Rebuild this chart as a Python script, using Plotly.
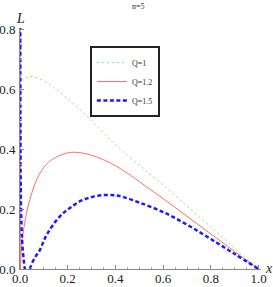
import plotly.graph_objects as go

# Q = 1 (green dotted)
x_q1 = [0.0005, 0.003, 0.008, 0.03, 0.054, 0.1, 0.14, 0.2, 0.25, 0.3, 0.35, 0.4, 0.45, 0.5, 0.6, 0.7, 0.8, 0.9, 1.0]
L_q1 = [0.9, 0.66, 0.632, 0.64, 0.643, 0.628, 0.607, 0.568, 0.533, 0.495, 0.455, 0.415, 0.38, 0.347, 0.28, 0.21, 0.14, 0.07, 0.0]

# Q = 1.2 (red solid)
x_q12 = [0.0, 0.001, 0.002, 0.005, 0.013, 0.02, 0.033, 0.05, 0.063, 0.08, 0.1, 0.117, 0.15, 0.2, 0.23, 0.27, 0.3, 0.35, 0.4, 0.45, 0.5, 0.6, 0.7, 0.8, 0.9, 1.0]
L_q12 = [0.9, 0.3, 0.0, 0.06, 0.12, 0.155, 0.207, 0.255, 0.285, 0.315, 0.34, 0.355, 0.373, 0.388, 0.39, 0.386, 0.38, 0.365, 0.345, 0.32, 0.292, 0.235, 0.176, 0.117, 0.058, 0.0]

# Q = 1.5 (blue dashed)
x_q15 = [0.001, 0.002, 0.004, 0.007, 0.01, 0.015, 0.02, 0.025, 0.03, 0.035, 0.041, 0.06, 0.083, 0.1, 0.116, 0.15, 0.186, 0.22, 0.256, 0.3, 0.351, 0.4, 0.434, 0.5, 0.6, 0.7, 0.8, 0.9, 1.0]
L_q15 = [0.9, 0.45, 0.22, 0.13, 0.08, 0.035, 0.002, -0.02, -0.025, -0.02, 0.0, 0.035, 0.063, 0.095, 0.12, 0.16, 0.19, 0.21, 0.228, 0.24, 0.247, 0.246, 0.24, 0.222, 0.19, 0.148, 0.1, 0.05, 0.0]

series_names = ["Q=1", "Q=1.2", "Q=1.5"]
x_ticks = [0.0, 0.2, 0.4, 0.6, 0.8, 1.0]
y_ticks = [0.0, 0.2, 0.4, 0.6, 0.8]

serif = "Liberation Serif"

fig = go.Figure()
fig.add_trace(go.Scatter(x=x_q1, y=L_q1, mode="lines", name=series_names[0],
                         line=dict(color="#7ee87e", width=1, dash="2px,3px", shape="spline")))
fig.add_trace(go.Scatter(x=x_q12, y=L_q12, mode="lines", name=series_names[1],
                         line=dict(color="#ff6a6a", width=1, shape="spline")))
fig.add_trace(go.Scatter(x=x_q15, y=L_q15, mode="lines", name=series_names[2],
                         line=dict(color="#1a1aff", width=2.5, dash="4px,2.5px", shape="spline")))

axis_common = dict(
    showgrid=False, zeroline=False, showline=True, linecolor="#888888", linewidth=1,
    ticks="inside", ticklen=4, tickcolor="#888888", tickwidth=1, automargin=False,
    tickfont=dict(family=serif, size=13, color="#222222"), tickformat=".1f",
    minor=dict(ticks="inside", ticklen=2, tickcolor="#aaaaaa", dtick=0.05),
)

fig.update_xaxes(range=[0, 1.01], tickvals=x_ticks, ticklabelstandoff=-3, **axis_common)
fig.update_yaxes(range=[0, 0.805], tickvals=y_ticks, ticklabelstandoff=1, **axis_common)

fig.update_layout(
    width=273, height=287,
    margin=dict(l=20, r=11.6, t=27.5, b=18, pad=0),
    plot_bgcolor="white", paper_bgcolor="white",
    showlegend=True,
    legend=dict(x=0.29, y=0.925, xanchor="left", yanchor="top",
                bordercolor="#222222", borderwidth=2, bgcolor="white",
                font=dict(family=serif, size=8, color="#333333"),
                itemwidth=30, tracegroupgap=0),
    annotations=[
        dict(text="n=5", xref="paper", yref="paper", x=0.49, y=1.0, yshift=22,
             xanchor="center", yanchor="middle",
             showarrow=False, font=dict(family=serif, size=8, color="#333333")),
        dict(text="<i>L</i>", xref="paper", yref="paper", x=0.0, y=1.0, yshift=10,
             xanchor="center", yanchor="middle",
             showarrow=False, font=dict(family=serif, size=14, color="#222222")),
        dict(text="<i>x</i>", xref="paper", yref="paper", x=1.0, y=0.0, xshift=2, yshift=1,
             xanchor="left", yanchor="middle",
             showarrow=False, font=dict(family=serif, size=14, color="#222222")),
    ],
)

fig.write_html("out.html", config={"displayModeBar": False},
               post_script="document.body.style.margin='0';document.body.style.overflow='hidden';")
